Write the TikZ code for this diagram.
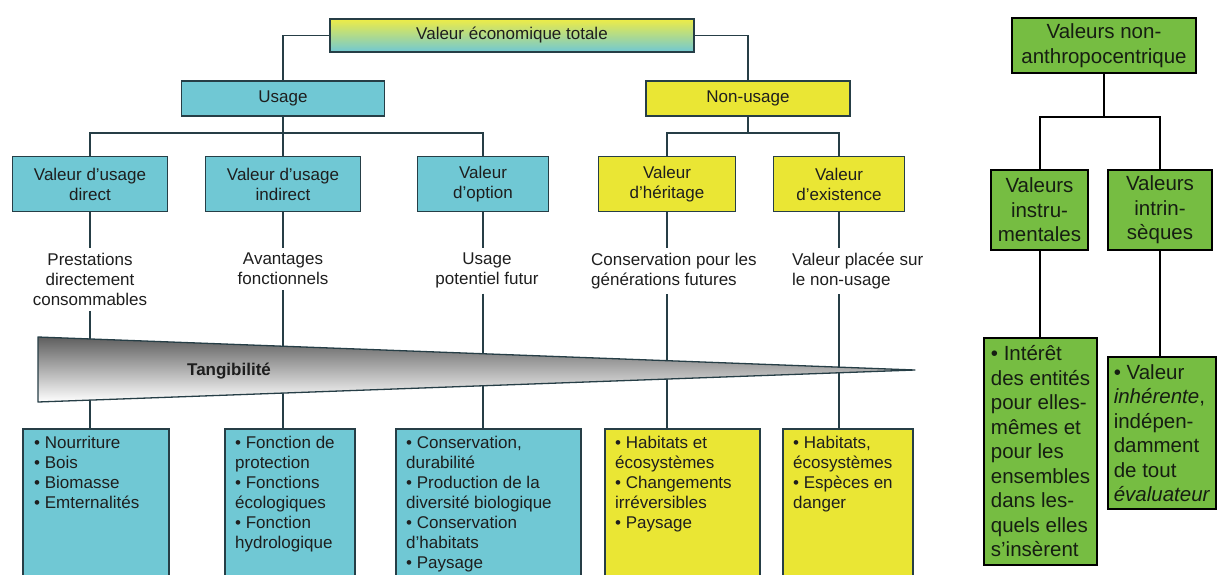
\documentclass[tikz,border=0pt]{standalone}
\usepackage{fontspec}
\setmainfont{Liberation Sans}
\usetikzlibrary{calc}
\definecolor{ublue}{RGB}{112,200,212}
\definecolor{uyellow}{RGB}{234,230,52}
\definecolor{topyel}{RGB}{238,236,70}
\definecolor{ugreen}{RGB}{118,189,66}
\definecolor{edge}{RGB}{38,62,70}
\definecolor{ink}{RGB}{30,30,30}
\definecolor{gink}{RGB}{22,30,18}
\definecolor{wtop}{RGB}{95,95,95}
\begin{document}
\begin{tikzpicture}[x=1pt,y=-1pt,
  lbox/.style={draw=edge,line width=1.6pt,inner sep=0pt,align=center,text=ink,font=\fontsize{17}{20}\selectfont},
  bluebox/.style={lbox,fill=ublue},
  yelbox/.style={lbox,fill=uyellow},
  lbl/.style={inner xsep=4pt,inner ysep=5pt,text=ink,font=\fontsize{17}{20}\selectfont},
  listtxt/.style={inner sep=0pt,text=ink,align=left,anchor=north west,font=\fontsize{17}{20}\selectfont},
  conn/.style={draw=edge,line width=1.4pt},
  gbox/.style={draw=black,line width=2pt,fill=ugreen,inner sep=2pt,text=gink,font=\fontsize{20.5}{24.5}\selectfont},
  gconn/.style={draw=black,line width=2pt}]
\useasboundingbox (0,0) rectangle (1219,574);
\clip (0,0) rectangle (1219,574);

% ---- top levels
\node[lbox,top color=topyel,bottom color=ublue,minimum width=364pt,minimum height=33pt] (tot) at (512,35.5) {Valeur économique totale};
\node[bluebox,minimum width=203pt,minimum height=35pt] (us) at (283,98.5) {Usage};
\node[yelbox,minimum width=204pt,minimum height=35pt] (nu) at (748,98.5) {Non-usage};
\draw[conn] (tot.west) -| (us.north);
\draw[conn] (tot.east) -| (nu.north);

% ---- second level
\node[bluebox,minimum width=155pt,minimum height=55pt] (vd) at (90,184) {Valeur d’usage\\direct};
\node[bluebox,minimum width=155pt,minimum height=55pt] (vi) at (283,184) {Valeur d’usage\\indirect};
\node[bluebox,minimum width=131pt,minimum height=55pt] (vo) at (483,184) {Valeur\\d’option};
\node[yelbox,minimum width=137pt,minimum height=55pt] (vh) at (667,184) {Valeur\\d’héritage};
\node[yelbox,minimum width=131pt,minimum height=55pt] (ve) at (839,184) {Valeur\\d’existence};

\coordinate (hu) at (0,133);
\draw[conn] (us.south) -- (us.south |- hu);
\draw[conn] (vd.north) |- (vo.north |- hu) -- (vo.north);
\draw[conn] (vi.north) -- (vi.north |- hu);
\draw[conn] (nu.south) -- (nu.south |- hu);
\draw[conn] (vh.north) |- (ve.north |- hu) -- (ve.north);

% ---- labels
\node[lbl,anchor=north,align=center] (l1) at (90,248) {Prestations\\directement\\consommables};
\node[lbl,anchor=north,align=center] (l2) at (283,248) {Avantages\\fonctionnels};
\node[lbl,anchor=north,align=center] (l3) at (487,248) {Usage\\potentiel futur};
\node[lbl,anchor=north west,align=left] (l4) at (587,248) {Conservation pour les\\générations futures};
\node[lbl,anchor=north west,align=left] (l5) at (788,248) {Valeur placée sur\\le non-usage};

% ---- bottom boxes
\node[bluebox,anchor=north west,minimum width=146pt,minimum height=160pt] (n1) at (22,428) {};
\node[bluebox,anchor=north west,minimum width=130pt,minimum height=160pt] (n2) at (224,428) {};
\node[bluebox,anchor=north west,minimum width=185pt,minimum height=160pt] (n3) at (395,428) {};
\node[yelbox,anchor=north west,minimum width=155pt,minimum height=160pt] (n4) at (604,428) {};
\node[yelbox,anchor=north west,minimum width=130pt,minimum height=160pt] (n5) at (782,428) {};

\node[listtxt] (t1) at ([xshift=12pt,yshift=-8pt]n1.north west) {• Nourriture\\• Bois\\• Biomasse\\• Emternalités};
\node[listtxt] (t2) at ([xshift=11pt,yshift=-8pt]n2.north west) {• Fonction de\\protection\\• Fonctions\\écologiques\\• Fonction\\hydrologique};
\node[listtxt] (t3) at ([xshift=11pt,yshift=-8pt]n3.north west) {• Conservation,\\durabilité\\• Production de la\\diversité biologique\\• Conservation\\d’habitats\\• Paysage};
\node[listtxt] (t4) at ([xshift=11pt,yshift=-8pt]n4.north west) {• Habitats et\\écosystèmes\\• Changements\\irréversibles\\• Paysage};
\node[listtxt] (t5) at ([xshift=11pt,yshift=-8pt]n5.north west) {• Habitats,\\écosystèmes\\• Espèces en\\danger};

% ---- vertical connectors through labels and wedge
\draw[conn] (vd.south) -- (vd.south |- l1.north);
\draw[conn] (vi.south) -- (vi.south |- l2.north);
\draw[conn] (vo.south) -- (vo.south |- l3.north);
\draw[conn] (vh.south) -- (vh.south |- l4.north);
\draw[conn] (ve.south) -- (ve.south |- l5.north);
\draw[conn] (vd.south |- l1.south) -- (vd.south |- n1.north);
\draw[conn] (vi.south |- l2.south) -- (vi.south |- n2.north);
\draw[conn] (vo.south |- l3.south) -- (vo.south |- n3.north);
\draw[conn] (vh.south |- l4.south) -- (vh.south |- n4.north);
\draw[conn] (ve.south |- l5.south) -- (ve.south |- n5.north);

% ---- tangibility wedge
\coordinate (wa) at (38,337);
\coordinate (wt) at (915,370);
\coordinate (wb) at (38,402);
\shade[top color=wtop,bottom color=white] (wa) -- (wt) -- (wb) -- cycle;
\draw[edge,line width=1.3pt,line join=round] (wa) -- (wt) -- (wb) -- cycle;
\node[font=\bfseries\fontsize{17}{20}\selectfont,text=ink] (tang) at (229,371) {Tangibilité};

% ---- right part
\node[gbox,align=center,minimum width=184pt,minimum height=55pt] (gtop) at (1104,45.5) {Valeurs non-\\anthropocentrique};
\node[gbox,align=center,minimum width=97pt,minimum height=80pt] (gi) at (1039.5,210) {Valeurs\\instru-\\mentales};
\node[gbox,align=center,minimum width=104pt,minimum height=80pt] (gs) at (1160,210) {Valeurs\\intrin-\\sèques};
\node[gbox,align=left,minimum width=113pt,minimum height=227pt] (gi2) at (1040.5,451.5) {• Intérêt\\des entités\\pour elles-\\mêmes et\\pour les\\ensembles\\dans les-\\quels elles\\s’insèrent};
\node[gbox,align=left,minimum width=108pt,minimum height=152pt] (gs2) at (1162,433) {• Valeur\\\textit{inhérente},\\indépen-\\damment\\de tout\\\textit{évaluateur}};

\coordinate (gj) at (0,117);
\draw[gconn] (gtop.south) -- (gtop.south |- gj);
\draw[gconn] (gi.north) |- (gs.north |- gj) -- (gs.north);
\draw[gconn] (gi.south) -- (gi.south |- gi2.north);
\draw[gconn] (gs.south) -- (gs.south |- gs2.north);
\end{tikzpicture}
\end{document}
